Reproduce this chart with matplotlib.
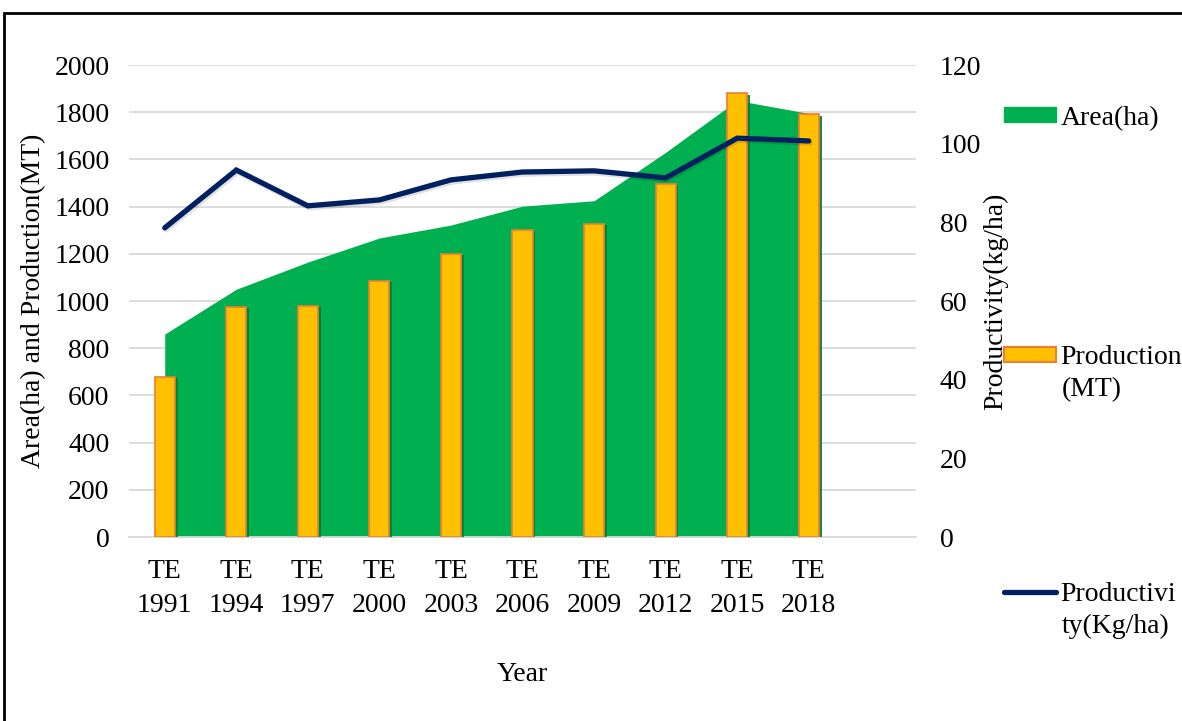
import numpy as np
import matplotlib.pyplot as plt
import matplotlib.patheffects as pe
from matplotlib.patches import Patch, Rectangle
from matplotlib.lines import Line2D

plt.rcParams["font.family"] = ["Liberation Serif", "DejaVu Serif"]

# 数据
years = ["TE\n1991", "TE\n1994", "TE\n1997", "TE\n2000", "TE\n2003",
         "TE\n2006", "TE\n2009", "TE\n2012", "TE\n2015", "TE\n2018"]
area = [860, 1050, 1165, 1267, 1322, 1402, 1425, 1630, 1850, 1795]
production = [678, 975, 980, 1085, 1199, 1301, 1326, 1496, 1881, 1792]
productivity = [78.6, 93.3, 84.2, 85.7, 90.8, 92.8, 93.1, 91.3, 101.4, 100.7]

GREEN = "#00B050"
GOLD = "#FFC000"
ORANGE = "#ED7D31"
NAVY = "#002060"
FS = 20

fig = plt.figure(figsize=(11.82, 7.21), dpi=100)
ax = fig.add_axes([0.1091, 0.2552, 0.775 - 0.1091, 0.9098 - 0.2552])
ax2 = ax.twinx()

x = np.arange(len(years))

# 面积图
ax.fill_between(x, 0, area, color=GREEN, linewidth=0, zorder=2)

# 柱状图（带一点阴影）
shadow = [pe.SimplePatchShadow(offset=(2, -1), shadow_rgbFace="#00803A", alpha=0.9), pe.Normal()]
bars = ax.bar(x, production, width=0.28, color=GOLD, edgecolor=ORANGE,
              linewidth=1.2, zorder=3)
for b in bars:
    b.set_path_effects(shadow)

# 折线图
ax2.plot(x, productivity, color=NAVY, linewidth=3.8, solid_capstyle="round",
         solid_joinstyle="miter", zorder=4,
         path_effects=[pe.SimpleLineShadow(offset=(1, -1.5), alpha=0.12), pe.Normal()])

ax.set_xlim(-0.5, 10.5)
ax.set_ylim(0, 2000)
ax2.set_ylim(0, 120)
ax.set_yticks(range(0, 2001, 200))
ax2.set_yticks(range(0, 121, 20))
ax.set_xticks(x)
ax.set_xticklabels(years, fontsize=FS, linespacing=1.45)

ax.grid(axis="y", color="#D9D9D9", linewidth=1.3, zorder=0)
ax.set_axisbelow(True)
for a in (ax, ax2):
    for s in a.spines.values():
        s.set_visible(False)
ax.spines["bottom"].set_visible(True)
ax.spines["bottom"].set_color("#D9D9D9")
ax.spines["bottom"].set_linewidth(1.3)
ax.tick_params(axis="y", length=0, labelsize=FS, pad=14)
ax.tick_params(axis="x", length=0, labelsize=FS, pad=16)
ax2.tick_params(axis="y", length=0, labelsize=FS, pad=17)

ax.set_ylabel("Area(ha) and Production(MT)", fontsize=FS, labelpad=6)
ax2.set_ylabel("Productivity(kg/ha)", fontsize=FS, labelpad=1)
ax.set_xlabel("Year", fontsize=FS, labelpad=32)

# 图例（分成三段放在右边，第二行文字单独写）
leg_items = [
    (Patch(facecolor=GREEN, edgecolor=GREEN), "Area(ha)", None, 0.836),
    (Patch(facecolor=GOLD, edgecolor=ORANGE, linewidth=1.5), "Production", "(MT)", 0.504),
    (Line2D([0], [0], color=NAVY, linewidth=3.8, solid_capstyle="round"), "Productivi", "ty(Kg/ha)", 0.176),
]
for h, lab, lab2, yy in leg_items:
    fig.legend([h], [lab], loc="center left", bbox_to_anchor=(0.849, yy),
               frameon=False, fontsize=FS, handlelength=1.9, handleheight=0.45,
               handletextpad=0.15, borderaxespad=0, borderpad=0)
    if lab2:
        fig.text(0.8985, yy - 0.045, lab2, fontsize=FS, va="center", ha="left")

# 外边框
fig.patches.append(Rectangle((0.003, -0.01), 1.05, 0.992, transform=fig.transFigure,
                             fill=False, edgecolor="black", linewidth=2))

fig.savefig("out.png", dpi=100)
